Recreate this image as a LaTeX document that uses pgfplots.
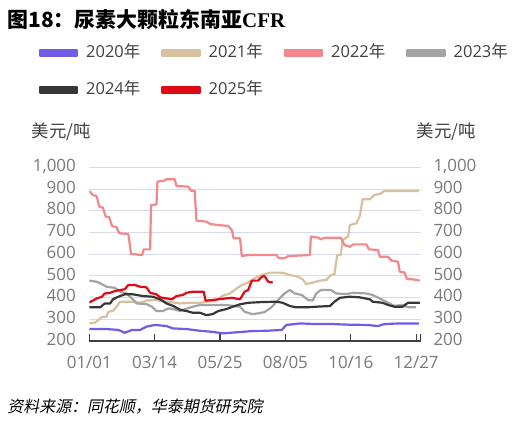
\documentclass[border=0pt]{standalone}
\usepackage{fontspec}
\setmainfont{Open Sans}
\newfontfamily\cjk{Noto Sans CJK SC}
\newfontfamily\cjkit{Noto Sans CJK SC}[FakeSlant=0.2]
\newfontfamily\serifb{Liberation Serif}
\usepackage{pgfplots}
\pgfplotsset{compat=1.18}
\definecolor{c20}{RGB}{112,92,230}
\definecolor{c21}{RGB}{214,193,158}
\definecolor{c22}{RGB}{242,135,140}
\definecolor{c23}{RGB}{163,163,166}
\definecolor{c24}{RGB}{55,55,55}
\definecolor{c25}{RGB}{222,10,22}
\definecolor{gridc}{RGB}{214,218,236}
\definecolor{axisc}{RGB}{64,64,64}
\definecolor{tickc}{RGB}{120,120,126}
\definecolor{legtext}{RGB}{64,64,64}
\begin{document}
\begin{tikzpicture}
\useasboundingbox (0,0) rectangle (519bp,426bp);
\begin{axis}[
  at={(89.3bp,85bp)}, anchor=south west,
  scale only axis, width=331.4bp, height=173.7bp,
  xmin=0, xmax=365, ymin=200, ymax=1000,
  axis x line*=bottom, axis y line*=left,
  x axis line style={draw=axisc, line width=1.3bp, -},
  y axis line style={draw=none},
  xtick={0,72,144,216,288,360},
  xticklabels={01/01,03/14,05/25,08/05,10/16,12/27},
  extra x ticks={365}, extra x tick labels={},
  extra x tick style={tick align=inside},
  tick align=inside, major tick length=7bp,
  xtick style={draw=axisc, line width=1.2bp},
  ytick={200,300,...,1000},
  ytick style={draw=none},
  ymajorgrids, major grid style={draw=gridc, line width=0.9bp},
  /pgf/number format/assume math mode=true,
  ticklabel style={font=\fontsize{17}{17}\selectfont, text=tickc},
  yticklabel style={anchor=base east, inner sep=0pt, xshift=-13.3bp, yshift=-4.25bp},
  xticklabel style={anchor=base, inner sep=0pt, yshift=-27.3bp},
  every axis plot/.append style={line width=2.2bp, line join=round},
  legend columns=4,
  legend cell align=left,
  legend style={draw=none, fill=none, inner sep=0pt, outer sep=0pt,
    at={(axis description cs:0,0)}, anchor=north west, xshift=-50.3bp, yshift=295.5bp,
    row sep=22bp, column sep=0pt,
    nodes={inner sep=0pt, text width=62bp, align=left, text height=12bp, text depth=3bp,
      font=\fontsize{16.5}{16.5}\selectfont, text=legtext},
    /tikz/every odd column/.append style={column sep=8bp},
    /tikz/every even column/.append style={column sep=13.3bp}},
  legend image code/.code={\path (-2.75bp,-3bp) rectangle (34.25bp,3bp);
    \draw[#1, line width=5.5bp, line cap=round] (0bp,0bp) -- (31.5bp,0bp);},
]
\addplot[c20] coordinates {(0,255) (19,255) (32,251) (39,238) (47,251) (56,251) (63,266) (72,274) (85,269) (92,258) (107,255) (122,247) (136,242) (147,235) (162,240) (180,246) (195,247) (212,251) (217,274) (224,277) (232,281) (250,278) (268,278) (287,275) (305,274) (318,269) (325,278) (342,281) (363,281)};
\addlegendentry{2020{\cjk 年}}
\addplot[c21] coordinates {(0,281) (6,284) (10,296) (14,312) (19,312) (21,335) (26,338) (30,358) (34,381) (48,381) (56,376) (63,386) (72,389) (85,381) (100,373) (111,376) (122,376) (131,381) (140,386) (146,407) (155,419) (160,435) (168,458) (175,469) (182,489) (190,504) (199,515) (210,515) (215,512) (221,504) (230,496) (235,484) (239,462) (246,469) (254,478) (261,481) (266,504) (270,507) (273,596) (277,596) (279,665) (285,681) (287,734) (294,742) (298,776) (301,853) (309,853) (314,873) (320,877) (325,891) (363,891)};
\addlegendentry{2021{\cjk 年}}
\addplot[c22] coordinates {(0,891) (4,872) (8,868) (11,819) (15,814) (18,773) (22,770) (25,730) (30,724) (33,696) (43,693) (46,601) (58,596) (60,622) (67,622) (68,826) (74,829) (75,934) (83,939) (85,945) (94,945) (96,914) (109,911) (112,892) (116,892) (118,754) (129,750) (133,739) (142,734) (153,730) (157,711) (159,673) (166,673) (168,591) (175,596) (206,596) (209,581) (215,581) (219,591) (243,596) (244,681) (252,676) (255,668) (259,676) (277,676) (281,642) (287,634) (291,645) (305,645) (308,622) (318,619) (320,588) (329,588) (333,570) (340,565) (342,519) (347,516) (350,485) (356,484) (364,478)};
\addlegendentry{2022{\cjk 年}}
\addplot[c23] coordinates {(0,478) (8,473) (12,466) (19,450) (28,445) (34,427) (41,419) (47,396) (52,373) (63,370) (69,358) (74,338) (81,338) (87,350) (92,347) (100,338) (105,346) (114,358) (122,366) (151,366) (160,361) (166,358) (171,335) (179,324) (186,327) (193,333) (199,350) (202,361) (208,389) (215,419) (221,435) (226,419) (234,412) (241,389) (246,386) (250,419) (255,435) (266,435) (272,419) (283,416) (290,422) (305,419) (312,412) (320,396) (329,376) (336,361) (343,366) (352,355) (360,355)};
\addlegendentry{2023{\cjk 年}}
\addplot[c24] coordinates {(0,355) (12,355) (17,373) (23,373) (26,392) (32,404) (39,415) (48,415) (59,407) (70,404) (78,392) (85,373) (92,362) (100,344) (109,336) (114,330) (122,330) (129,319) (136,324) (142,338) (151,347) (158,358) (166,369) (175,376) (188,379) (206,381) (213,376) (221,361) (228,355) (239,355) (250,358) (265,361) (270,381) (276,399) (287,404) (298,401) (309,392) (312,381) (323,376) (329,366) (336,358) (345,358) (351,376) (364,376)};
\addlegendentry{2024{\cjk 年}}
\addplot[c25] coordinates {(0,378) (4,386) (8,396) (14,404) (17,419) (23,422) (28,430) (34,435) (39,438) (43,458) (50,458) (56,450) (63,447) (67,422) (74,415) (78,401) (85,396) (91,392) (96,407) (103,412) (107,422) (114,427) (126,427) (128,386) (136,389) (144,393) (157,399) (166,392) (171,427) (175,435) (179,478) (186,478) (190,496) (193,499) (197,473) (202,469)};
\addlegendentry{2025{\cjk 年}}
\end{axis}
\begin{axis}[
  at={(89.3bp,85bp)}, anchor=south west,
  scale only axis, width=331.4bp, height=173.7bp,
  xmin=0, xmax=365, ymin=200, ymax=1000,
  hide x axis, axis y line*=right,
  y axis line style={draw=none},
  ytick={200,300,...,1000}, ytick style={draw=none},
  /pgf/number format/assume math mode=true,
  ticklabel style={font=\fontsize{17}{17}\selectfont, text=tickc},
  yticklabel style={anchor=base west, inner sep=0pt, xshift=12.6bp, yshift=-4.25bp},
]
\addplot[draw=none] coordinates {(0,500) (365,500)};
\end{axis}
\node[anchor=base west, inner sep=0pt, text=black] at (7.3bp,398.6bp)
  {\cjk\bfseries\fontsize{21}{21}\selectfont 图18：尿素大颗粒东南亚{\serifb\bfseries CFR}};
\node[anchor=base west, inner sep=0pt, text=legtext] at (31.7bp,288.1bp)
  {\cjk\fontsize{17.5}{17.5}\selectfont 美元/吨};
\node[anchor=base west, inner sep=0pt, text=legtext] at (416.7bp,288.1bp)
  {\cjk\fontsize{17.5}{17.5}\selectfont 美元/吨};
\node[anchor=base west, inner sep=0pt, text=black] at (7.3bp,14bp)
  {\cjkit\fontsize{16}{16}\selectfont 资料来源：同花顺，华泰期货研究院};
\end{tikzpicture}
\end{document}
